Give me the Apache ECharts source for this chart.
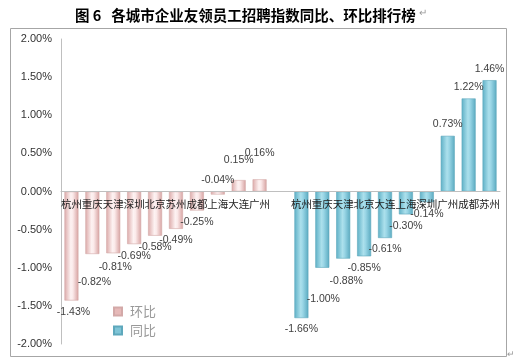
<!DOCTYPE html>
<html>
<head>
<meta charset="utf-8">
<script src="https://cdn.jsdelivr.net/npm/echarts@6/dist/echarts.min.js"></script>
<style>
html,body{margin:0;padding:0;background:#fff;}
#chart{width:513px;height:364px;}
</style>
</head>
<body>
<div id="chart"></div>
<script>
// ---- data ----
const leftCities = ['杭州','重庆','天津','深圳','北京','苏州','成都','上海','大连','广州'];
const rightCities = ['杭州','重庆','天津','北京','大连','上海','深圳','广州','成都','苏州'];
const huanbi = [-1.43,-0.82,-0.81,-0.69,-0.58,-0.49,-0.25,-0.04,0.15,0.16];
const tongbi = [-1.66,-1.00,-0.88,-0.85,-0.61,-0.30,-0.14,0.73,1.22,1.46];
const yTicks = ['2.00%','1.50%','1.00%','0.50%','0.00%','-0.50%','-1.00%','-1.50%','-2.00%'];
const seriesNames = ['环比','同比'];
const titleText = '图 6   各城市企业友领员工招聘指数同比、环比排行榜';

// ---- build ----
const categories = leftCities.concat(['']).concat(rightCities);
const nLeft = leftCities.length;
const gapSlots = 1;
const yMin = -2, yMax = 2, yStep = 0.5;

// manual label nudges (style only) keyed by category index
const labelNudge = {
  0:{dx:2,dy:0}, 1:{dx:2,dy:17}, 2:{dx:2,dy:2},
  7:{pos:'top',dx:0,dy:0}, 8:{dx:0,dy:-8}, 9:{dx:0,dy:-15},
  12:{dx:1,dy:20}, 13:{dx:3,dy:11}
};

function makeItems(values, offset){
  const arr = new Array(categories.length).fill(null);
  values.forEach((v,i)=>{
    const idx = offset + i;
    const n = labelNudge[idx] || {};
    const pos = n.pos || (v < 0 ? 'bottom' : 'top');
    arr[idx] = {
      value: v,
      label: {position: pos, offset: [n.dx||0, n.dy||0]}
    };
  });
  return arr;
}

const pinkGrad = new echarts.graphic.LinearGradient(0,0,1,0,[
  {offset:0,color:'#dcaaa9'},{offset:0.45,color:'#fdf2f2'},{offset:0.6,color:'#fbeaea'},{offset:1,color:'#d7a2a1'}]);
const blueGrad = new echarts.graphic.LinearGradient(0,0,1,0,[
  {offset:0,color:'#5eb0c6'},{offset:0.45,color:'#ace0ec'},{offset:0.6,color:'#9ad6e6'},{offset:1,color:'#5aaac0'}]);

const labelCommon = {
  show:true, distance:6, fontSize:10.5, color:'#404040',
  fontFamily:'Liberation Sans, Arial, sans-serif',
  formatter: p => p.value.toFixed(2) + '%'
};

const chart = echarts.init(document.getElementById('chart'), null, {renderer:'canvas'});
chart.setOption({
  animation:false,
  backgroundColor:'#fff',
  title:{
    text:titleText, left:70, top:3,
    textStyle:{fontSize:14.5, fontWeight:'bold', color:'#000', fontFamily:'Noto Sans CJK SC'}
  },
  graphic:[
    {type:'rect', shape:{x:10.5,y:28.5,width:496,height:328}, style:{fill:'none',stroke:'#a6a6a6',lineWidth:1}, silent:true, z:-1},
    {type:'text', left:419, top:8, style:{text:'↵', fontSize:10, fill:'#999'}},
    {type:'text', left:507, top:350, style:{text:'↵', fontSize:9, fill:'#999'}}
  ],
  legend:{
    orient:'vertical', left:108, top:300, itemWidth:8, itemHeight:8, itemGap:6,
    icon:'rect',
    textStyle:{fontSize:13, color:'#999999', fontFamily:'Noto Sans CJK SC', padding:[0,0,0,3]},
    data:[
      {name:seriesNames[0], itemStyle:{color:'#e6b9b8'}},
      {name:seriesNames[1], itemStyle:{color:'#7fc4d6'}}
    ]
  },
  grid:{left:61, right:13, top:39, bottom:20},
  xAxis:{
    type:'category', data:categories, z:5, position:'bottom', offset:0,
    axisLine:{onZero:false, lineStyle:{color:'#bfbfbf', width:1}},
    axisTick:{show:false},
    axisLabel:{interval:0, margin:7, fontSize:10.5, color:'#222', fontFamily:'Noto Sans CJK SC'},
    splitLine:{show:false}
  },
  yAxis:{
    type:'value', min:yMin, max:yMax, interval:yStep,
    axisLine:{show:true, lineStyle:{color:'#bfbfbf'}},
    axisTick:{show:false},
    splitLine:{show:false},
    axisLabel:{margin:9, fontSize:11, color:'#333', fontFamily:'Liberation Sans, Arial, sans-serif',
      formatter: v => { const i = Math.round((yMax - v)/yStep); return yTicks[i]; }}
  },
  series:[
    {
      name:seriesNames[0], type:'bar', barWidth:14, barGap:'-100%',
      data: makeItems(huanbi, 0),
      itemStyle:{color:pinkGrad, borderColor:'#d3a9a8', borderWidth:0.6},
      label:labelCommon
    },
    {
      name:seriesNames[1], type:'bar', barWidth:14, barGap:'-100%',
      data: makeItems(tongbi, nLeft + gapSlots),
      itemStyle:{color:blueGrad, borderColor:'#5ea8bc', borderWidth:0.6},
      label:labelCommon
    }
  ]
});
// place category axis on the zero line using the library's own scale
const yZeroPx = chart.convertToPixel({yAxisIndex:0}, 0);
const yBottomPx = chart.convertToPixel({yAxisIndex:0}, yMin);
chart.setOption({xAxis:{offset: yZeroPx - yBottomPx}});
</script>
</body>
</html>
